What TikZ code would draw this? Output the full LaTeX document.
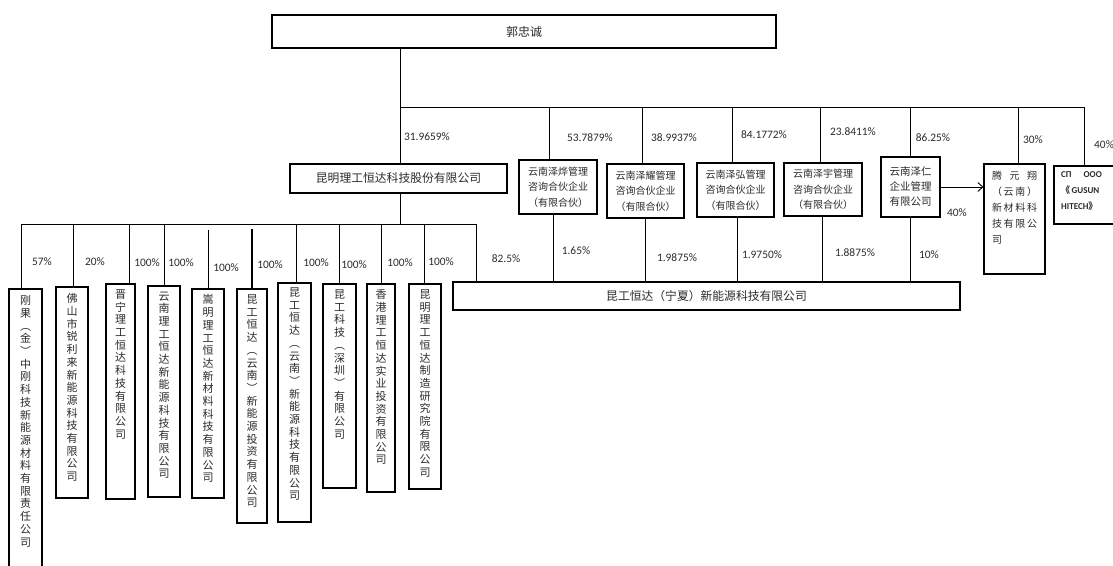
\documentclass[tikz,border=0pt]{standalone}
\usepackage{fontspec}
\newfontfamily\cjk{Noto Sans CJK SC}
\newfontfamily\lat{Carlito}
\usetikzlibrary{arrows.meta}
\definecolor{txt}{HTML}{2B2B2B}
\begin{document}
\begin{tikzpicture}[x=1pt,y=-1pt,
  box/.style={draw=black, line width=1.1pt, inner sep=0pt, text=txt, font=\cjk\fontsize{10}{15.5}\selectfont, align=center},
  ln/.style={draw=black, line width=0.9pt},
  pct/.style={font=\lat\fontsize{11.4}{13}\selectfont, text=txt, inner sep=0pt},
  vtext/.style={font=\cjk\fontsize{11}{12.7}\selectfont, text=txt, align=center, inner sep=0pt}]
\useasboundingbox (0,0) rectangle (1113,565);
\fill[white] (0,0) rectangle (1113,565);

% top boxes
\node[box, minimum width=504pt, minimum height=33pt, font=\cjk\fontsize{12}{14}\selectfont] (guo) at (524,31.5) {郭忠诚};
\node[box, minimum width=217pt, minimum height=29pt, font=\cjk\fontsize{11.8}{14}\selectfont] (km) at (398.5,178.5) {昆明理工恒达科技股份有限公司};
\node[box, minimum width=507pt, minimum height=28pt, font=\cjk\fontsize{11.8}{14}\selectfont] (nx) at (706.5,296) {昆工恒达（宁夏）新能源科技有限公司};

% middle boxes
\node[box, minimum width=78pt, minimum height=54pt] (zy1) at (558,187) {云南泽烨管理\\咨询合伙企业\\（有限合伙）};
\node[box, minimum width=77pt, minimum height=54pt] (zy2) at (645.5,191) {云南泽耀管理\\咨询合伙企业\\（有限合伙）};
\node[box, minimum width=77pt, minimum height=54pt] (zy3) at (735.5,190) {云南泽弘管理\\咨询合伙企业\\（有限合伙）};
\node[box, minimum width=78pt, minimum height=53pt] (zy4) at (823,189.5) {云南泽宇管理\\咨询合伙企业\\（有限合伙）};
\node[box, minimum width=59pt, minimum height=60pt, font=\cjk\fontsize{10.5}{15}\selectfont] (zr) at (910.5,187) {云南泽仁\\企业管理\\有限公司};
\node[box, minimum width=61pt, minimum height=110pt] (ty) at (1014.5,219) {};
\node[anchor=north, inner sep=0pt, align=left, text=txt, font=\cjk\fontsize{10}{16}\selectfont] (tyt) at ([yshift=-7pt]ty.north)
  {\hbox to 45pt{腾\hfil 元\hfil 翔}\\\hbox to 45pt{（\hfil 云\hfil 南\hfil ）}\\\hbox to 45pt{新\hfil 材\hfil 料\hfil 科}\\\hbox to 45pt{技\hfil 有\hfil 限\hfil 公}\\\hbox to 45pt{司\hfil}};
\node[box, minimum width=66pt, minimum height=58pt] (sp) at (1087,195) {};
\node[anchor=north west, inner sep=0pt, align=left, text=txt, font=\lat\bfseries\fontsize{9}{16}\selectfont] (spt) at (1061,171)
  {СП\hspace{12pt}ООО\\{\cjk 《}\,GUSUN\\HITECH{\cjk 》}};

% left vertical boxes
\node[box, minimum width=33pt, minimum height=291pt] (b1) at (25.5,434.5) {};
\node[box, minimum width=32pt, minimum height=211pt] (b2) at (72,392.5) {};
\node[box, minimum width=29pt, minimum height=215pt] (b3) at (120.5,391.5) {};
\node[box, minimum width=32pt, minimum height=211pt] (b4) at (164,391.5) {};
\node[box, minimum width=32pt, minimum height=209pt] (b5) at (208,393.5) {};
\node[box, minimum width=30pt, minimum height=234pt] (b6) at (252,406) {};
\node[box, minimum width=33pt, minimum height=239pt] (b7) at (294.5,402.5) {};
\node[box, minimum width=33pt, minimum height=204pt] (b8) at (339.5,386) {};
\node[box, minimum width=28pt, minimum height=208pt] (b9) at (381,388) {};
\node[box, minimum width=32pt, minimum height=205pt] (b10) at (425,386.5) {};

\node[vtext, anchor=north] (t1) at ([yshift=-7pt]b1.north) {刚\\果\\︵\\金\\︶\\中\\刚\\科\\技\\新\\能\\源\\材\\料\\有\\限\\责\\任\\公\\司};
\node[vtext, anchor=north] (t2) at ([yshift=-7pt]b2.north) {佛\\山\\市\\锐\\利\\来\\新\\能\\源\\科\\技\\有\\限\\公\\司};
\node[vtext, anchor=north] (t3) at ([yshift=-6pt]b3.north) {晋\\宁\\理\\工\\恒\\达\\科\\技\\有\\限\\公\\司};
\node[vtext, anchor=north] (t4) at ([yshift=-6pt]b4.north) {云\\南\\理\\工\\恒\\达\\新\\能\\源\\科\\技\\有\\限\\公\\司};
\node[vtext, anchor=north] (t5) at ([yshift=-6pt]b5.north) {嵩\\明\\理\\工\\恒\\达\\新\\材\\料\\科\\技\\有\\限\\公\\司};
\node[vtext, anchor=north] (t6) at ([yshift=-6pt]b6.north) {昆\\工\\恒\\达\\︵\\云\\南\\︶\\新\\能\\源\\投\\资\\有\\限\\公\\司};
\node[vtext, anchor=north] (t7) at ([yshift=-5pt]b7.north) {昆\\工\\恒\\达\\︵\\云\\南\\︶\\新\\能\\源\\科\\技\\有\\限\\公\\司};
\node[vtext, anchor=north] (t8) at ([yshift=-6pt]b8.north) {昆\\工\\科\\技\\︵\\深\\圳\\︶\\有\\限\\公\\司};
\node[vtext, anchor=north] (t9) at ([yshift=-6pt]b9.north) {香\\港\\理\\工\\恒\\达\\实\\业\\投\\资\\有\\限\\公\\司};
\node[vtext, anchor=north] (t10) at ([yshift=-6pt]b10.north) {昆\\明\\理\\工\\恒\\达\\制\\造\\研\\究\\院\\有\\限\\公\\司};

% upper connectors
\coordinate (top) at (400,107);
\coordinate (topR) at (1084,107);
\draw[ln] (guo.south -| top) -- (km.north -| top);
\draw[ln] (top) -- (topR);
\coordinate (u1) at (549,107);
\coordinate (u2) at (642,107);
\coordinate (u3) at (732,107);
\coordinate (u4) at (820,107);
\coordinate (u5) at (910,107);
\coordinate (u6) at (1018,107);
\draw[ln] (u1) -- (u1 |- zy1.north);
\draw[ln] (u2) -- (u2 |- zy2.north);
\draw[ln] (u3) -- (u3 |- zy3.north);
\draw[ln] (u4) -- (u4 |- zy4.north);
\draw[ln] (u5) -- (u5 |- zr.north);
\draw[ln] (u6) -- (u6 |- ty.north);
\draw[ln] (topR) -- (topR |- sp.north);

% lower bus
\coordinate (bus) at (400,224);
\coordinate (busL) at (21,224);
\coordinate (busR) at (476,224);
\draw[ln] (km.south -| bus) -- (bus);
\draw[ln] (busL) -- (busR);
\draw[ln] (busL) -- (busL |- b1.north);
\coordinate (d2) at (73,224);
\coordinate (d3) at (129,224);
\coordinate (d4) at (164,224);
\coordinate (d5) at (208,230);
\coordinate (d6) at (252,229);
\coordinate (d7) at (296,224);
\coordinate (d8) at (339,224);
\coordinate (d9) at (381,224);
\coordinate (d10) at (424,224);
\draw[ln] (d2) -- (d2 |- b2.north);
\draw[ln] (d3) -- (d3 |- b3.north);
\draw[ln] (d4) -- (d4 |- b4.north);
\draw[ln] (d5) -- (d5 |- b5.north);
\draw[ln, line width=1.3pt] (d6) -- (d6 |- b6.north);
\draw[ln] (d7) -- (d7 |- b7.north);
\draw[ln] (d8) -- (d8 |- b8.north);
\draw[ln] (d9) -- (d9 |- b9.north);
\draw[ln] (d10) -- (d10 |- b10.north);
\draw[ln] (busR) -- (busR |- nx.north);

% middle to ningxia
\coordinate (w1) at (553,0);
\coordinate (w2) at (645,0);
\coordinate (w3) at (737,0);
\coordinate (w4) at (822,0);
\coordinate (w5) at (910,0);
\draw[ln] (w1 |- zy1.south) -- (w1 |- nx.north);
\draw[ln] (w2 |- zy2.south) -- (w2 |- nx.north);
\draw[ln] (w3 |- zy3.south) -- (w3 |- nx.north);
\draw[ln] (w4 |- zy4.south) -- (w4 |- nx.north);
\draw[ln] (w5 |- zr.south) -- (w5 |- nx.north);

% arrow
\draw[ln, -{Straight Barb[length=5pt,width=9pt]}] (zr.east) -- (zr.east -| ty.west);

% percentages
\node[pct] (p1) at (427,137) {31.9659\%};
\node[pct] (p2) at (590,138) {53.7879\%};
\node[pct] (p3) at (674,138) {38.9937\%};
\node[pct] (p4) at (764,135) {84.1772\%};
\node[pct] (p5) at (853,132) {23.8411\%};
\node[pct] (p6) at (933,138) {86.25\%};
\node[pct] (p7) at (1033,140) {30\%};
\node[pct, anchor=west] (p8) at (1094,145) {40\%};
\node[pct] (p9) at (957,213) {40\%};
\node[pct] (q1) at (929,255) {10\%};
\node[pct] (q2) at (855,253) {1.8875\%};
\node[pct] (q3) at (762,255) {1.9750\%};
\node[pct] (q4) at (677,258) {1.9875\%};
\node[pct] (q5) at (576,251) {1.65\%};
\node[pct] (q6) at (506,259) {82.5\%};
\node[pct] (r1) at (42,262) {57\%};
\node[pct] (r2) at (95,262) {20\%};
\node[pct] (r3) at (147,263) {100\%};
\node[pct] (r4) at (181,263) {100\%};
\node[pct] (r5) at (226,268) {100\%};
\node[pct] (r6) at (270,265) {100\%};
\node[pct] (r7) at (316,263) {100\%};
\node[pct] (r8) at (354,265) {100\%};
\node[pct] (r9) at (400,263) {100\%};
\node[pct] (r10) at (441,262) {100\%};
\end{tikzpicture}
\end{document}
